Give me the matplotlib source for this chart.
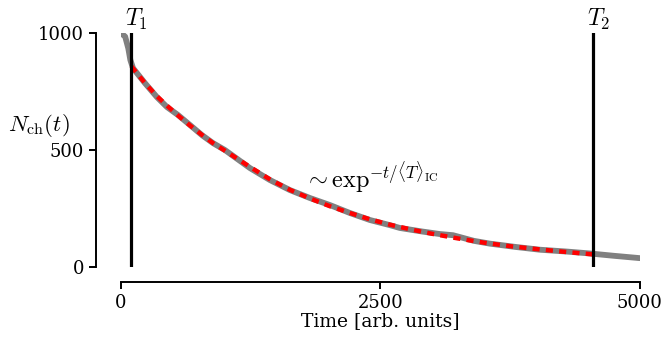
import numpy as np
import matplotlib
matplotlib.use("Agg")
import matplotlib.pyplot as plt

# gray decay curve
tiempo = [0, 40, 70, 90, 116, 231, 347, 443, 549, 665, 780, 886, 1002, 1243,
          1435, 1628, 1821, 2013, 2206, 2399, 2592, 2688, 2900, 3073, 3200, 3300,
          3400, 3555, 3800, 4037, 4300, 4518, 4750, 5000]
n_ch = [1000, 985, 935, 885, 850, 786, 726, 684, 650, 607, 564, 530, 500, 423,
        372, 329, 295, 265, 231, 201, 179, 167, 152, 141, 136, 124,
        112, 100, 86, 74, 66, 58, 48, 38]

# red exponential fit between T1 and T2
tiempo_fit = [100, 231, 347, 443, 549, 665, 780, 886, 1002, 1243, 1435, 1628,
              1821, 2013, 2206, 2399, 2592, 2800, 3000, 3250, 3500, 3750, 4000,
              4250, 4550]
n_fit = [858, 786, 730, 690, 648, 605, 565, 530, 497, 428, 375, 330,
         293, 260, 231, 204, 181, 160, 142, 122, 104, 89, 77,
         66, 54]

T1 = 100
T2 = 4550

plt.rcParams['font.family'] = 'DejaVu Serif'
plt.rcParams['mathtext.fontset'] = 'cm'

fig = plt.figure(figsize=(6.65, 3.38), dpi=100)
ax = fig.add_axes([0.182, 0.210, 0.780, 0.692])

ax.plot(tiempo, n_ch, color='#808080', linewidth=4.2, solid_capstyle='round', zorder=2)
ax.plot(tiempo_fit, n_fit, color='red', linewidth=3.2, dashes=(1.6, 1.4), zorder=3)

for t, lab in [(T1, r'$T_1$'), (T2, r'$T_2$')]:
    ax.axvline(t, color='black', linewidth=2.3, zorder=4)
    ax.text(t - 60, 1005, lab, ha='left', va='bottom', fontsize=17)

ax.text(1760, 385, r'$\sim \exp^{-t/\langle T\rangle_{\rm IC}}$', fontsize=17.5,
        ha='left', va='center')

ax.set_xlim(0, 5000)
ax.set_ylim(0, 1000)
ax.set_xticks([0, 2500, 5000])
ax.set_yticks([0, 500, 1000])

ax.spines['top'].set_visible(False)
ax.spines['right'].set_visible(False)
ax.spines['left'].set_position(('outward', 18))
ax.spines['bottom'].set_position(('outward', 11))
for s in ['left', 'bottom']:
    ax.spines[s].set_linewidth(1.4)
ax.tick_params(direction='out', length=5, width=1.4, labelsize=13)

ax.set_xlabel('Time [arb. units]', fontsize=13.5, labelpad=0)
ax.set_ylabel(r'$N_{\rm ch}(t)$', rotation=0, fontsize=16.5)
ax.yaxis.set_label_coords(-0.158, 0.607)
ax.yaxis.label.set_va('center')

fig.savefig('out.png', dpi=100)
